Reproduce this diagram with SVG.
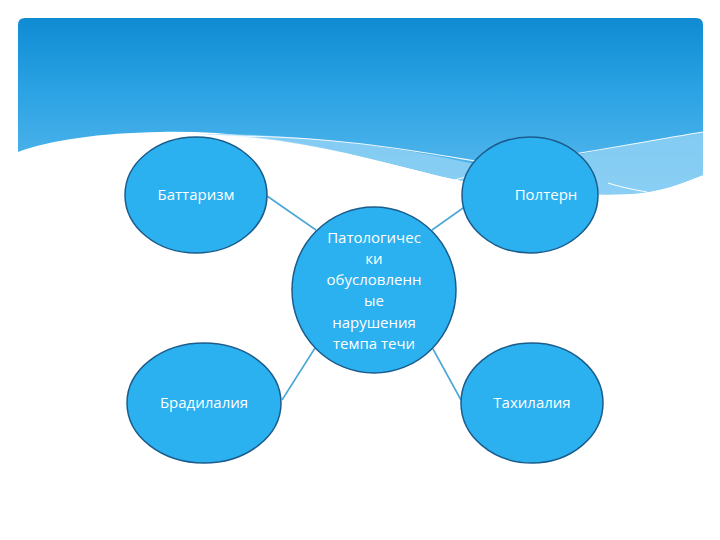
<svg xmlns="http://www.w3.org/2000/svg" width="720" height="540" viewBox="0 0 720 540">
<defs>
<linearGradient id="hdr" x1="0" y1="0" x2="0" y2="1">
<stop offset="0" stop-color="#0f8bd3"/>
<stop offset="0.4" stop-color="#2aa2e3"/>
<stop offset="1" stop-color="#5cbaee"/>
</linearGradient>
<style>
.node{fill:#2bb0f0;stroke:#1b5c8c;stroke-width:1.5}
.lbl{fill:#ffffff;font-family:"Open Sans","Liberation Sans",sans-serif;font-size:15px;text-anchor:middle}
.conn{stroke:#4ba7d6;stroke-width:1.6;fill:none}
.wl{stroke:#ffffff;stroke-width:1.2;fill:none;opacity:0.9}
</style>
</defs>
<rect width="720" height="540" fill="#ffffff"/>
<g id="header">
<path d="M18,25 Q18,18 25,18 L696,18 Q703,18 703,25 L703,175 C680,184 660,192 630,194 C570,196 500,190 440,176 C340,150 260,130 160,132 C100,133 50,140 18,152 Z" fill="url(#hdr)"/>
<path d="M200,134 C330,133 440,155 500,170 C560,158 640,142 703,132 L703,175 C680,184 660,192 630,194 C570,196 500,190 440,176 C360,156 290,137 200,134 Z" fill="#9ad6f6" opacity="0.75"/>
<path d="M230,136 C350,136 440,156 500,165 C560,158 640,142 703,132" class="wl"/>
<path d="M443,183 C460,178 475,175 490,171" class="wl"/>
<path d="M608,183 C620,187 635,190 647,192" class="wl"/>
</g>
<g id="connectors">
<line class="conn" x1="267" y1="196" x2="316" y2="230"/>
<line class="conn" x1="432" y1="230" x2="480" y2="196"/>
<line class="conn" x1="315" y1="348" x2="282" y2="400"/>
<line class="conn" x1="433" y1="349" x2="461" y2="400"/>
</g>
<g id="node-battarizm">
<ellipse class="node" cx="196" cy="195" rx="71" ry="58"/>
<text class="lbl" x="196" y="200">Баттаризм</text>
</g>
<g id="node-poltern">
<ellipse class="node" cx="530" cy="195" rx="68" ry="58"/>
<text class="lbl" x="546" y="200">Полтерн</text>
</g>
<g id="node-center">
<ellipse class="node" cx="374" cy="290" rx="82" ry="83"/>
<text class="lbl" x="374" y="243">Патологичес</text>
<text class="lbl" x="374" y="264">ки</text>
<text class="lbl" x="374" y="285">обусловленн</text>
<text class="lbl" x="374" y="306">ые</text>
<text class="lbl" x="374" y="328">нарушения</text>
<text class="lbl" x="374" y="349">темпа течи</text>
</g>
<g id="node-bradilalia">
<ellipse class="node" cx="204" cy="403" rx="77" ry="60"/>
<text class="lbl" x="204" y="408">Брадилалия</text>
</g>
<g id="node-tahilalia">
<ellipse class="node" cx="532" cy="403" rx="71" ry="60"/>
<text class="lbl" x="532" y="408">Тахилалия</text>
</g>
</svg>
